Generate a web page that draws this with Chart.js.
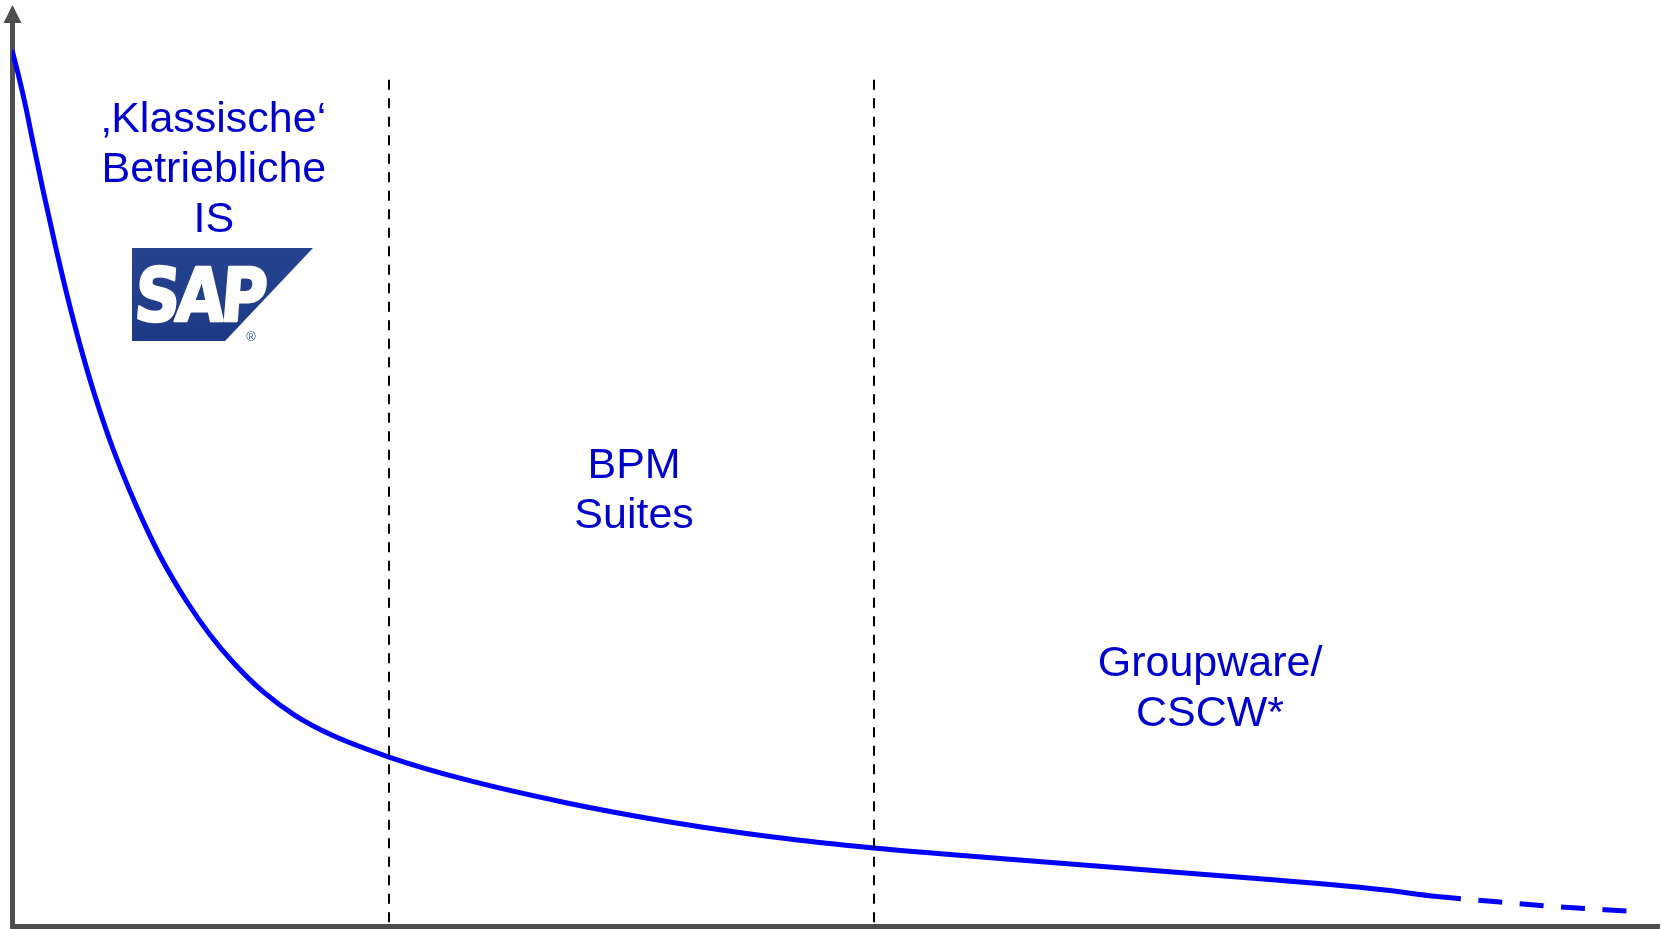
<!DOCTYPE html>
<html>
<head>
<meta charset="utf-8">
<script src="https://cdn.jsdelivr.net/npm/chart.js@4.4.1/dist/chart.umd.min.js"></script>
<style>
  html, body { margin: 0; padding: 0; background: #ffffff; }
  #wrap { width: 1662px; height: 929px; position: relative; }
</style>
</head>
<body>
<div id="wrap"><canvas id="chart"></canvas></div>
<script>
// Long-tail curve: degree of standardisation (y) over process variety (x), both 0–100
const curveX = [0, 0.36, 0.85, 1.27, 1.88, 2.61, 3.34, 4.13, 5.04, 6.07, 7.47, 8.99,
                10.63, 12.02, 13.42, 15.24, 17.18, 19.31, 22.89, 27.38, 33.70, 39.95,
                46.21, 52.31, 60.78, 70.07, 75.17, 83.06, 86.52,
                90.35, 93.99, 98.06];
const curveY = [96.69, 94.15, 90.29, 86.53, 81.24, 75.28, 69.65, 64.13, 58.50, 52.98, 46.69, 40.84,
                35.76, 32.15, 29.11, 25.86, 23.25, 21.16, 18.65, 16.23, 13.58, 11.48,
                9.82, 8.61, 7.34, 6.02, 5.30, 4.03, 3.26,
                2.65, 2.10, 1.66];
// from this point on the tail is drawn dashed (extrapolated)
const dashedFromIndex = 28;

// borders between the three system classes
const dividerX = [22.89, 52.31];
const dividerTop = 93.4;

// names of the system classes
const regionLabels = [
  ['\u201AKlassische\u2018', 'Betriebliche', 'IS'],
  ['BPM', 'Suites'],
  ['Groupware/', 'CSCW*']
];
const regionCenterX = [12.26, 37.77, 72.74];
const regionFirstLineY = [87.64, 49.45, 27.59];

const points = curveX.map((v, i) => ({ x: v, y: curveY[i] }));

function drawSapLogo(ctx, left, top) {
  const w = 181, h = 93, cut = 88;
  ctx.save();
  const g = ctx.createLinearGradient(0, top, 0, top + h);
  g.addColorStop(0, '#25438f');
  g.addColorStop(1, '#1c3a86');
  ctx.fillStyle = g;
  ctx.beginPath();
  ctx.moveTo(left, top);
  ctx.lineTo(left + w, top);
  ctx.lineTo(left + w - cut, top + h);
  ctx.lineTo(left, top + h);
  ctx.closePath();
  ctx.fill();
  // lettering
  ctx.fillStyle = '#ffffff';
  ctx.strokeStyle = '#ffffff';
  ctx.lineWidth = 2.5;
  ctx.lineJoin = 'round';
  ctx.font = 'bold 74px "DejaVu Sans", "Liberation Sans", Arial, sans-serif';
  ctx.textAlign = 'left';
  ctx.textBaseline = 'alphabetic';
  ctx.letterSpacing = '-5px';
  const tw = ctx.measureText('SAP').width;
  const sx = 128 / tw;
  ctx.save();
  ctx.translate(left + 1, top + 73);
  ctx.transform(sx, 0, -0.08, 1, 0, 0);
  ctx.fillText('SAP', 0, 0);
  ctx.strokeText('SAP', 0, 0);
  ctx.restore();
  ctx.letterSpacing = '0px';
  ctx.fillStyle = '#3b4f8a';
  ctx.font = '13px "Liberation Sans", Arial, sans-serif';
  ctx.textAlign = 'center';
  ctx.fillText('\u00AE', left + 119, top + 93);
  ctx.restore();
}

const overlay = {
  id: 'overlay',
  afterDatasetsDraw(chart) {
    const { ctx, chartArea, scales: { x, y } } = chart;
    ctx.save();
    // dashed class borders
    ctx.strokeStyle = '#000000';
    ctx.lineWidth = 2;
    ctx.setLineDash([10, 8.5]);
    dividerX.forEach(v => {
      const px = Math.round(x.getPixelForValue(v));
      ctx.beginPath();
      ctx.moveTo(px, y.getPixelForValue(dividerTop));
      ctx.lineTo(px, chartArea.bottom);
      ctx.stroke();
    });
    ctx.setLineDash([]);

    // class names
    ctx.fillStyle = '#0000cc';
    ctx.font = '43px "Liberation Sans", Arial, sans-serif';
    ctx.textAlign = 'center';
    ctx.textBaseline = 'alphabetic';
    regionLabels.forEach((lines, i) => {
      const cx = x.getPixelForValue(regionCenterX[i]);
      const by = y.getPixelForValue(regionFirstLineY[i]);
      lines.forEach((t, j) => ctx.fillText(t, cx, by + j * 50));
    });

    // vendor logo under the first class name
    const cx0 = x.getPixelForValue(regionCenterX[0]);
    const by0 = y.getPixelForValue(regionFirstLineY[0]);
    drawSapLogo(ctx, Math.round(cx0 - 82), Math.round(by0 + 116));

    // arrow head on the vertical axis
    const ax = chartArea.left + 0.5;
    ctx.fillStyle = '#4d4d4d';
    ctx.beginPath();
    ctx.moveTo(ax, chartArea.top - 15);
    ctx.lineTo(ax + 9, chartArea.top + 3);
    ctx.lineTo(ax - 9, chartArea.top + 3);
    ctx.closePath();
    ctx.fill();
    ctx.restore();
  }
};

new Chart(document.getElementById('chart'), {
  type: 'line',
  data: {
    datasets: [{
      data: points,
      borderColor: '#0000ff',
      borderWidth: 5,
      pointRadius: 0,
      fill: false,
      cubicInterpolationMode: 'monotone',
      segment: {
        borderDash: ctx => ctx.p0DataIndex >= dashedFromIndex ? [24, 17.5] : undefined
      }
    }]
  },
  options: {
    responsive: true,
    maintainAspectRatio: false,
    animation: false,
    layout: { padding: { left: 12, top: 20, right: 3, bottom: 3 } },
    plugins: { legend: { display: false }, tooltip: { enabled: false } },
    scales: {
      x: {
        type: 'linear', min: 0, max: 100,
        ticks: { display: false },
        grid: { display: false, drawTicks: false },
        border: { display: true, color: '#4d4d4d', width: 5 }
      },
      y: {
        type: 'linear', min: 0, max: 100,
        ticks: { display: false },
        grid: { display: false, drawTicks: false },
        border: { display: true, color: '#4d4d4d', width: 5 }
      }
    }
  },
  plugins: [overlay]
});
</script>
</body>
</html>
